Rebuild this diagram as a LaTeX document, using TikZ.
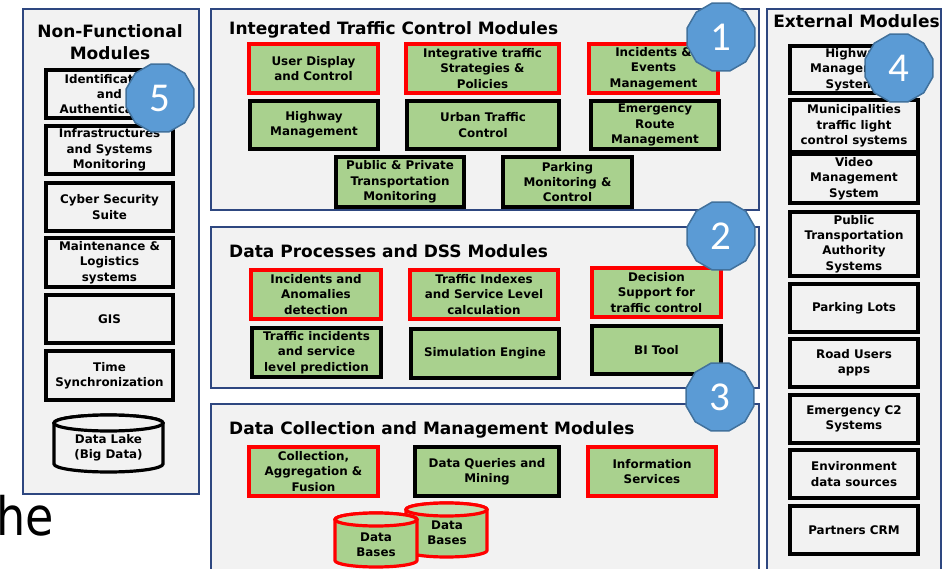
\documentclass[tikz,border=0pt]{standalone}
\usepackage{fontspec}
\setmainfont{DejaVu Sans}
\newfontfamily\badgefont{Carlito}
\usetikzlibrary{shapes.geometric}
\definecolor{panelfill}{HTML}{F2F2F2}
\definecolor{panelline}{HTML}{2E4780}
\definecolor{modgreen}{HTML}{A9D18E}
\definecolor{dbtop}{HTML}{C5E0B4}
\definecolor{badgeblue}{HTML}{5B9BD5}
\definecolor{badgeline}{HTML}{41719C}
\definecolor{modred}{HTML}{FF0000}
\newcommand\cylshape[8]{%
  \pgfmathsetmacro\cylrx{(#2-#1)/2}%
  \filldraw[draw=#6, fill=#7, line width=3.2pt] (#1,#3+#5) -- (#1,#4-#5)
    arc[start angle=180,end angle=360,x radius=\cylrx pt,y radius=#5pt]
    -- (#2,#3+#5) arc[start angle=0,end angle=180,x radius=\cylrx pt,y radius=#5pt] -- cycle;
  \filldraw[draw=#6, fill=#8, line width=3.2pt] ({(#1+#2)/2},#3+#5) ellipse[x radius=\cylrx pt, y radius=#5pt];
}
\begin{document}
\begin{tikzpicture}[x=1pt,y=-1pt,
  panel/.style={rectangle, draw=panelline, fill=panelfill, line width=1.2pt, inner sep=0},
  box/.style={rectangle, line width=3.2pt, inner sep=0, align=center, font=\bfseries\fontsize{11.9}{15.3}\selectfont, text=black},
  redbox/.style={box, draw=modred, fill=modgreen},
  blackbox/.style={box, draw=black, fill=modgreen},
  plainbox/.style={box, draw=black, fill=panelfill},
  heading/.style={font=\bfseries\fontsize{17}{20}\selectfont, inner sep=0, text=black},
  badge/.style={regular polygon, regular polygon sides=12, minimum size=70pt, fill=badgeblue, draw=badgeline, line width=1.5pt, text=white, font=\badgefont\fontsize{41}{41}\selectfont, inner sep=0},
  dblabel/.style={inner sep=0, align=center, font=\bfseries\fontsize{11.9}{15.3}\selectfont, text=black}
]
\clip (0,0) rectangle (945,569);
\fill[white] (0,0) rectangle (945,569);

% panels
\node[panel, minimum width=176pt, minimum height=485pt] (pnf) at (111,251.5) {};
\node[panel, minimum width=548pt, minimum height=201pt] (p1) at (485,109.5) {};
\node[panel, minimum width=548pt, minimum height=161pt] (p2) at (485,307.5) {};
\node[panel, minimum width=548pt, minimum height=180pt] (p3) at (485,494) {};
\node[panel, minimum width=174pt, minimum height=580pt] (pext) at (854,299) {};

% headings
\node[heading, anchor=base] (t5a) at (110,38) {Non-Functional};
\node[heading, anchor=base] (t5b) at (110,60) {Modules};
\node[heading, anchor=base west] (t1) at (229,35) {Integrated Traffic Control Modules};
\node[heading, anchor=base west] (t2) at (229,258) {Data Processes and DSS Modules};
\node[heading, anchor=base west] (t3) at (229,434) {Data Collection and Management Modules};
\node[heading, anchor=base] (t4) at (856.5,28) {External Modules};

% non-functional modules
\node[plainbox, minimum width=127pt, minimum height=48pt] (nf1) at (109.5,94) {Identification\\and\\Authentication};
\node[plainbox, minimum width=127pt, minimum height=48pt] (nf2) at (109.5,150) {Infrastructures\\and Systems\\Monitoring};
\node[plainbox, minimum width=127pt, minimum height=48pt] (nf3) at (109.5,207) {Cyber Security\\Suite};
\node[plainbox, minimum width=127pt, minimum height=49pt] (nf4) at (109.5,262.5) {Maintenance \&\\Logistics\\systems};
\node[plainbox, minimum width=127pt, minimum height=48pt] (nf5) at (109.5,319) {GIS};
\node[plainbox, minimum width=127pt, minimum height=49pt] (nf6) at (109.5,375.5) {Time\\Synchronization};
\cylshape{54}{163}{415}{472}{8}{black}{panelfill}{panelfill}
\node[dblabel] (lake) at (108.5,448) {Data Lake\\(Big Data)};

% integrated traffic control modules
\node[redbox, minimum width=129pt, minimum height=49pt] (ud) at (313.5,68.5) {User Display\\and Control};
\node[redbox, minimum width=153pt, minimum height=49pt] (its) at (482.5,68.5) {Integrative traffic\\Strategies \&\\Policies};
\node[redbox, minimum width=129pt, minimum height=49pt] (iem) at (653.5,68.5) {Incidents \&\\Events\\Management};
\node[blackbox, minimum width=128pt, minimum height=48pt] (hm) at (314,125) {Highway\\Management};
\node[blackbox, minimum width=152pt, minimum height=48pt] (utc) at (483,125) {Urban Traffic\\Control};
\node[blackbox, minimum width=128pt, minimum height=48pt] (erm) at (655,125) {Emergency\\Route\\Management};
\node[blackbox, minimum width=128pt, minimum height=50pt] (ppt) at (400,182) {Public \& Private\\Transportation\\Monitoring};
\node[blackbox, minimum width=129pt, minimum height=50pt] (pmc) at (567.5,182) {Parking\\Monitoring \&\\Control};

% data processes and DSS modules
\node[redbox, minimum width=130pt, minimum height=49pt] (iad) at (316,294.5) {Incidents and\\Anomalies\\detection};
\node[redbox, minimum width=148pt, minimum height=49pt] (tix) at (484,294.5) {Traffic Indexes\\and Service Level\\calculation};
\node[redbox, minimum width=129pt, minimum height=49pt] (dss) at (656.5,292.5) {Decision\\Support for\\traffic control};
\node[blackbox, minimum width=129pt, minimum height=49pt] (tip) at (316.5,352.5) {Traffic incidents\\and service\\level prediction};
\node[blackbox, minimum width=148pt, minimum height=49pt] (sim) at (485,353.5) {Simulation Engine};
\node[blackbox, minimum width=129pt, minimum height=48pt] (bi) at (656.5,350) {BI Tool};

% data collection and management modules
\node[redbox, minimum width=129pt, minimum height=49pt] (caf) at (313.5,471.5) {Collection,\\Aggregation \&\\Fusion};
\node[blackbox, minimum width=144pt, minimum height=49pt] (dqm) at (487,471.5) {Data Queries and\\Mining};
\node[redbox, minimum width=128pt, minimum height=49pt] (inf) at (652,471.5) {Information\\Services};
\cylshape{406}{487}{503}{557}{6.5}{modred}{modgreen}{dbtop}
\node[dblabel] (db2) at (447,533) {Data\\Bases};
\cylshape{335}{417}{513}{567}{6.5}{modred}{modgreen}{dbtop}
\node[dblabel] (db1) at (376,545) {Data\\Bases};

% external modules
\node[plainbox, minimum width=128pt, minimum height=47pt] (e1) at (854,69.5) {Highway\\Management\\Systems};
\node[plainbox, minimum width=128pt, minimum height=52pt] (e2) at (854,126) {Municipalities\\traffic light\\control systems};
\node[plainbox, minimum width=128pt, minimum height=49pt] (e3) at (854,178.5) {Video\\Management\\System};
\node[plainbox, minimum width=128pt, minimum height=64pt] (e4) at (854,244) {Public\\Transportation\\Authority\\Systems};
\node[plainbox, minimum width=128pt, minimum height=48pt] (e5) at (854,308) {Parking Lots};
\node[plainbox, minimum width=128pt, minimum height=48pt] (e6) at (854,363) {Road Users\\apps};
\node[plainbox, minimum width=128pt, minimum height=48pt] (e7) at (854,419) {Emergency C2\\Systems};
\node[plainbox, minimum width=128pt, minimum height=48pt] (e8) at (854,474) {Environment\\data sources};
\node[plainbox, minimum width=128pt, minimum height=48pt] (e9) at (854,530) {Partners CRM};

% stray text
\node[anchor=base east, inner sep=0, font=\fontsize{53}{53}\selectfont, text=black] (he) at (54.5,535) {\scalebox{0.87}[1]{he}};

% badges
\node[badge] (b1) at (721,37) {1};
\node[badge] (b2) at (721,236) {2};
\node[badge] (b3) at (720,397) {3};
\node[badge] (b4) at (899,68) {4};
\node[badge] (b5) at (160,98) {5};
\end{tikzpicture}
\end{document}
